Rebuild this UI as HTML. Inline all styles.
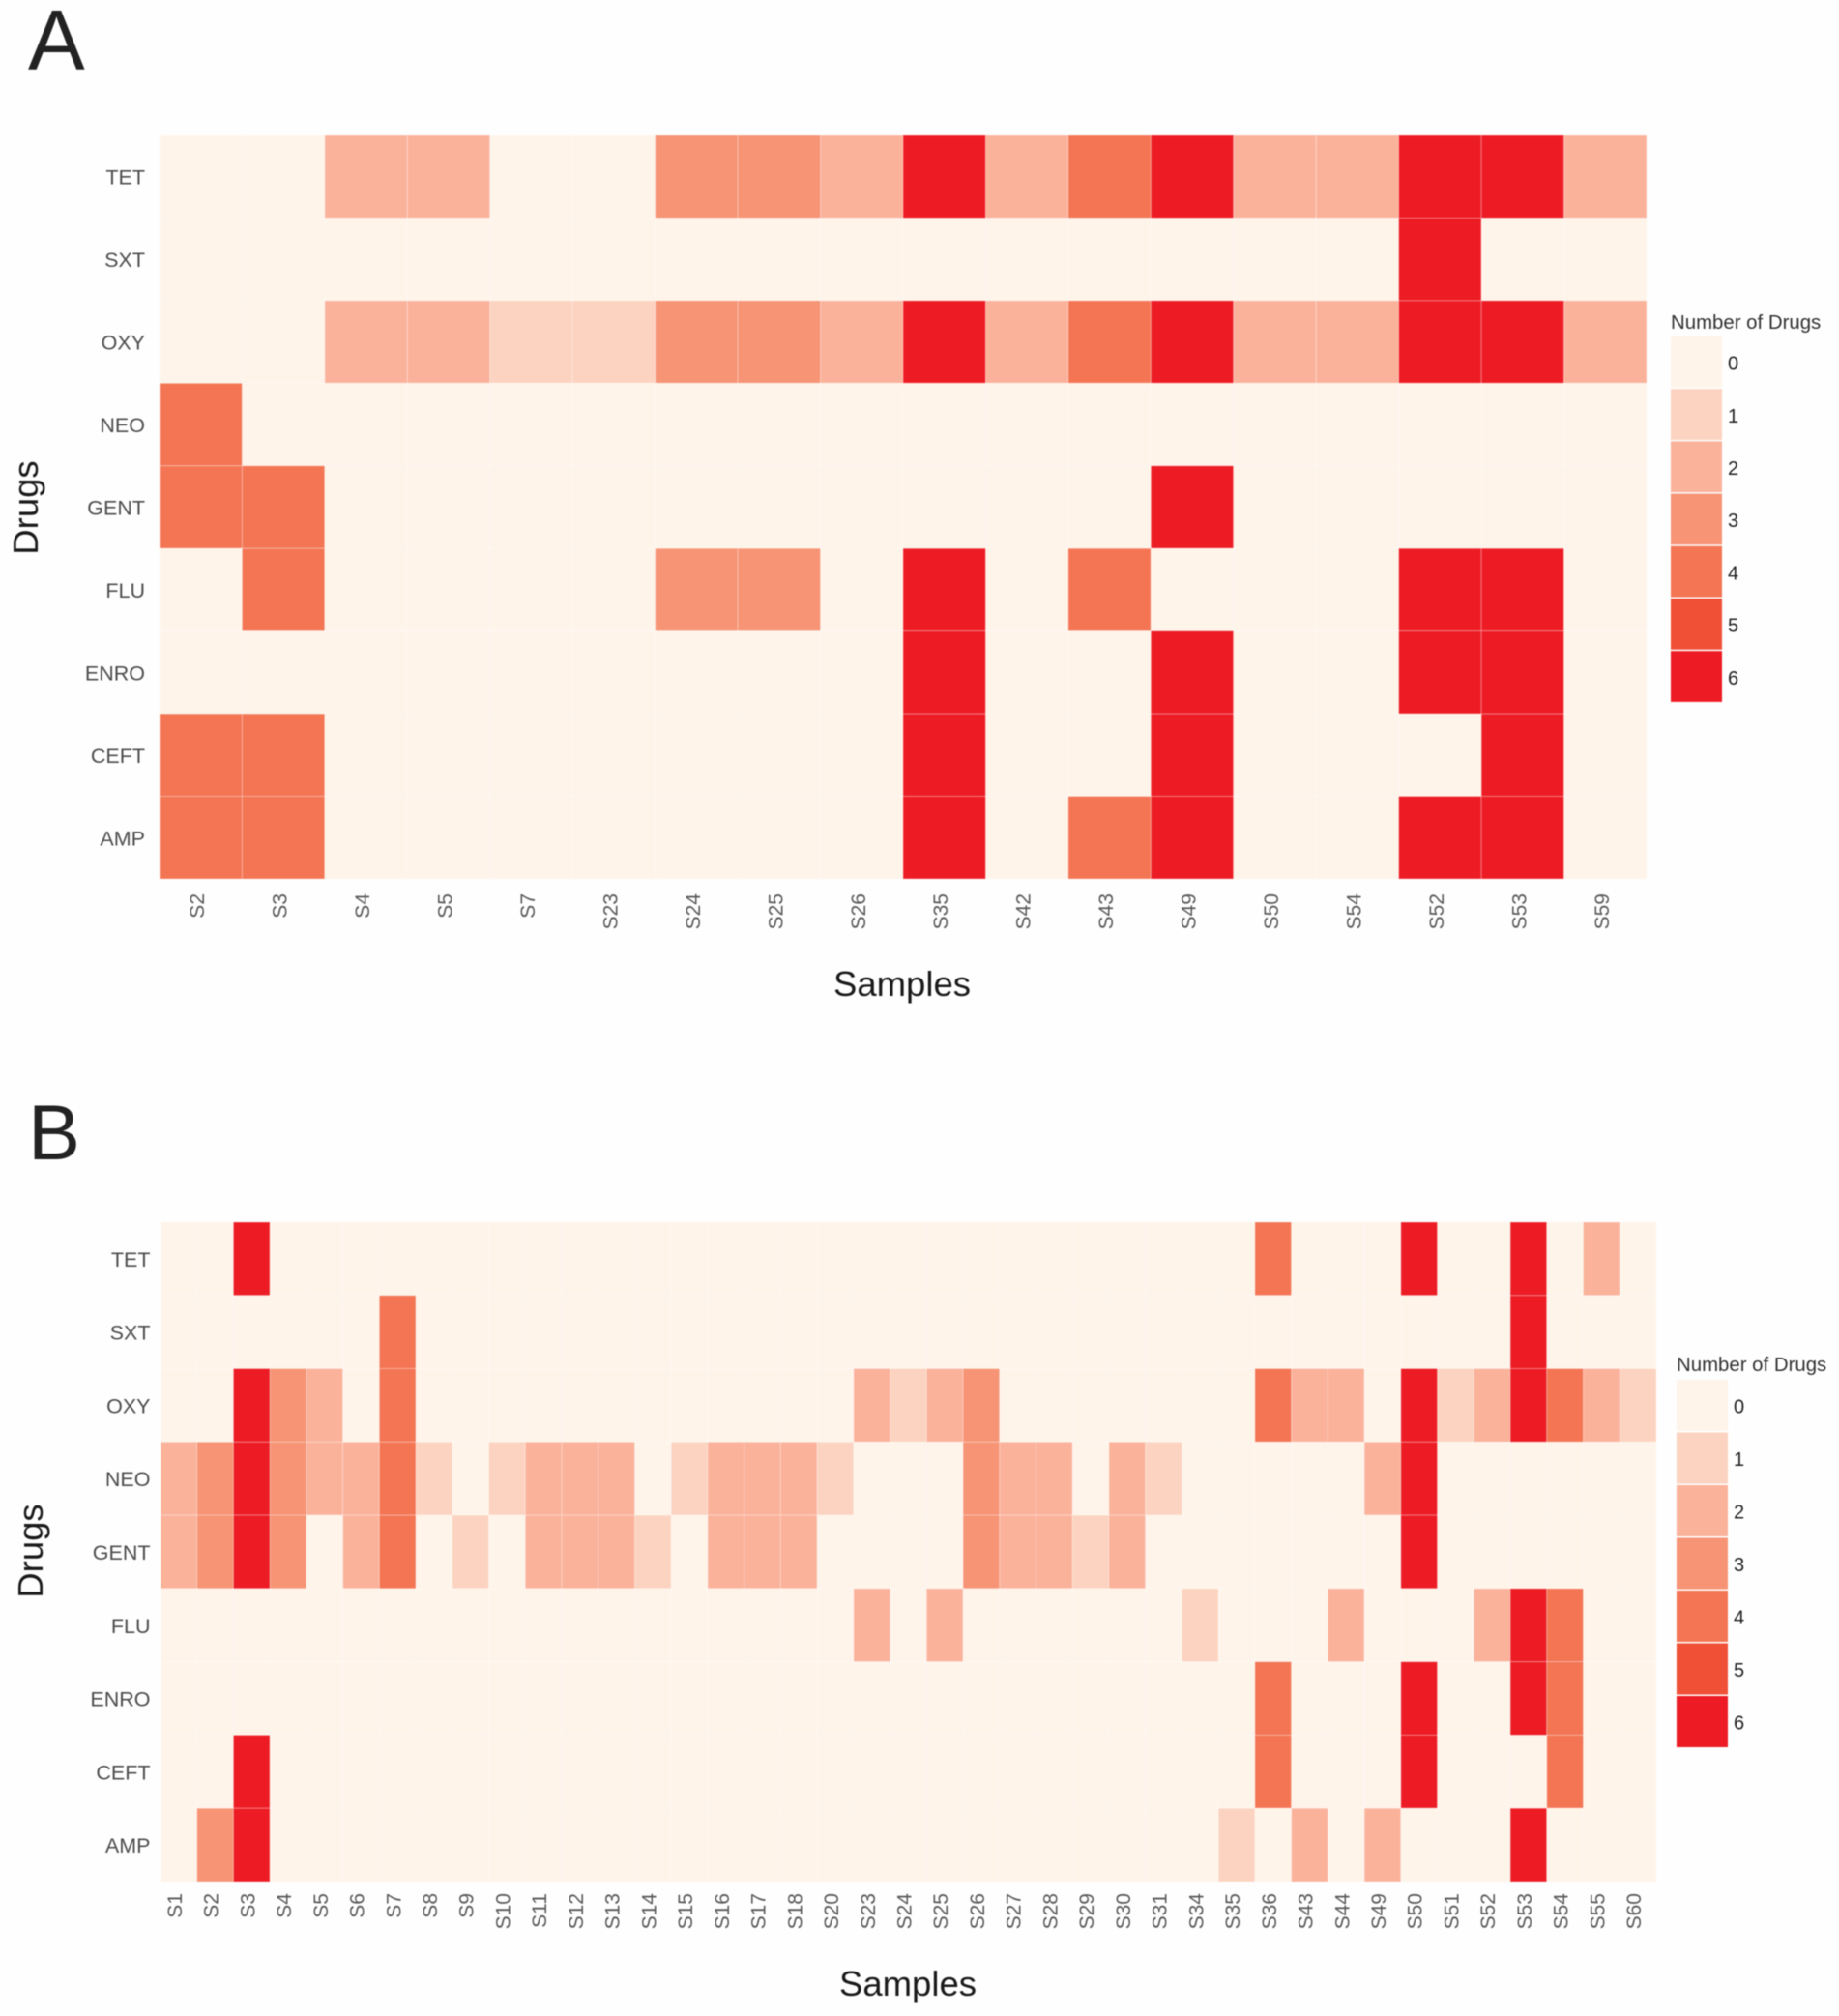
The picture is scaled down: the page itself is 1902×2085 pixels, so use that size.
<!DOCTYPE html>
<html lang="en">
<head>
<meta charset="utf-8">
<title>Drug resistance heatmaps</title>
<style>
html,body{margin:0;padding:0;background:#fefefe;}
svg{display:block;font-family:"Liberation Sans",sans-serif;filter:blur(0.55px);}
</style>
</head>
<body>
<svg id="figure" xmlns="http://www.w3.org/2000/svg" width="1902" height="2085" viewBox="0 0 1902 2085">
<rect width="1902" height="2085" fill="#fefefe"/>
</svg>
<script>
const drugs = ["TET","SXT","OXY","NEO","GENT","FLU","ENRO","CEFT","AMP"];
const legendLevels = [0,1,2,3,4,5,6];
const levelColors = ["#fef4ea","#fcd3c0","#fbb29b","#f69475","#f37554","#f05036","#ed1c24"];

const samplesA = ["S2","S3","S4","S5","S7","S23","S24","S25","S26","S35","S42","S43","S49","S50","S54","S52","S53","S59"];
const tetA  = [0,0,2,2,0,0,3,3,2,6,2,4,6,2,2,6,6,2];
const sxtA  = [0,0,0,0,0,0,0,0,0,0,0,0,0,0,0,6,0,0];
const oxyA  = [0,0,2,2,1,1,3,3,2,6,2,4,6,2,2,6,6,2];
const neoA  = [4,0,0,0,0,0,0,0,0,0,0,0,0,0,0,0,0,0];
const gentA = [4,4,0,0,0,0,0,0,0,0,0,0,6,0,0,0,0,0];
const fluA  = [0,4,0,0,0,0,3,3,0,6,0,4,0,0,0,6,6,0];
const enroA = [0,0,0,0,0,0,0,0,0,6,0,0,6,0,0,6,6,0];
const ceftA = [4,4,0,0,0,0,0,0,0,6,0,0,6,0,0,0,6,0];
const ampA  = [4,4,0,0,0,0,0,0,0,6,0,4,6,0,0,6,6,0];

const samplesB = ["S1","S2","S3","S4","S5","S6","S7","S8","S9","S10","S11","S12","S13","S14","S15","S16","S17","S18","S20","S23","S24","S25","S26","S27","S28","S29","S30","S31","S34","S35","S36","S43","S44","S49","S50","S51","S52","S53","S54","S55","S60"];
const tetB  = [0,0,6,0,0,0,0,0,0,0, 0,0,0,0,0,0,0,0,0,0, 0,0,0,0,0,0,0,0,0,0, 4,0,0,0,6,0,0,6,0,2,0];
const sxtB  = [0,0,0,0,0,0,4,0,0,0, 0,0,0,0,0,0,0,0,0,0, 0,0,0,0,0,0,0,0,0,0, 0,0,0,0,0,0,0,6,0,0,0];
const oxyB  = [0,0,6,3,2,0,4,0,0,0, 0,0,0,0,0,0,0,0,0,2, 1,2,3,0,0,0,0,0,0,0, 4,2,2,0,6,1,2,6,4,2,1];
const neoB  = [2,3,6,3,2,2,4,1,0,1, 2,2,2,0,1,2,2,2,1,0, 0,0,3,2,2,0,2,1,0,0, 0,0,0,2,6,0,0,0,0,0,0];
const gentB = [2,3,6,3,0,2,4,0,1,0, 2,2,2,1,0,2,2,2,0,0, 0,0,3,2,2,1,2,0,0,0, 0,0,0,0,6,0,0,0,0,0,0];
const fluB  = [0,0,0,0,0,0,0,0,0,0, 0,0,0,0,0,0,0,0,0,2, 0,2,0,0,0,0,0,0,1,0, 0,0,2,0,0,0,2,6,4,0,0];
const enroB = [0,0,0,0,0,0,0,0,0,0, 0,0,0,0,0,0,0,0,0,0, 0,0,0,0,0,0,0,0,0,0, 4,0,0,0,6,0,0,6,4,0,0];
const ceftB = [0,0,6,0,0,0,0,0,0,0, 0,0,0,0,0,0,0,0,0,0, 0,0,0,0,0,0,0,0,0,0, 4,0,0,0,6,0,0,0,4,0,0];
const ampB  = [0,3,6,0,0,0,0,0,0,0, 0,0,0,0,0,0,0,0,0,0, 0,0,0,0,0,0,0,0,0,1, 0,2,0,2,0,0,0,6,0,0,0];

const rowsA = [tetA,sxtA,oxyA,neoA,gentA,fluA,enroA,ceftA,ampA];
const rowsB = [tetB,sxtB,oxyB,neoB,gentB,fluB,enroB,ceftB,ampB];

const NS = "http://www.w3.org/2000/svg";
const fig = document.getElementById("figure");

function svgEl(parent, tag, attrs, text) {
  const el = document.createElementNS(NS, tag);
  for (const k in attrs) el.setAttribute(k, attrs[k]);
  if (text !== undefined) el.textContent = text;
  parent.appendChild(el);
  return el;
}

function drawPanel(cfg) {
  const n = cfg.samples.length;
  const m = drugs.length;
  const xScale = i => cfg.left + (cfg.right - cfg.left) * i / n;
  const yScale = j => cfg.top + (cfg.bottom - cfg.top) * j / m;
  const cw = (cfg.right - cfg.left) / n;
  const ch = (cfg.bottom - cfg.top) / m;

  const panel = svgEl(fig, "g", {});
  
  

  const letter = svgEl(panel, "text", {x: cfg.letterX, y: cfg.letterY, "font-size": cfg.letterSize, fill: "#222222"}, cfg.letter);
  
  

  const plot = svgEl(panel, "g", {});
  
  

  cfg.rows.forEach((row, j) => {
    row.forEach((v, i) => {
      const cell = svgEl(plot, "rect", {
        x: xScale(i), y: yScale(j), width: cw, height: ch,
        fill: levelColors[v], stroke: "rgba(255,255,255,0.28)", "stroke-width": 1
      });
      
      
    });
  });

  drugs.forEach((d, j) => {
    const t = svgEl(panel, "text", {
      x: cfg.left - cfg.yLabelGap, y: yScale(j) + ch / 2 + cfg.yLabelDy, "text-anchor": "end",
      "font-size": 21.5, fill: "#4d4d4d"
    }, d);
    
    
  });

  cfg.samples.forEach((s, i) => {
    const cx = xScale(i) + cw / 2 + cfg.xLabelDx;
    const yy = cfg.bottom + cfg.tickGap;
    const t = svgEl(panel, "text", {
      x: cx + 7, y: yy, "text-anchor": "end", "font-size": 21, fill: "#5a5a5a",
      transform: "rotate(-90 " + (cx + 7) + " " + yy + ")"
    }, s);
    
    
  });

  const xt = svgEl(panel, "text", {
    x: cfg.xTitleX, y: cfg.xTitleY, "text-anchor": "middle", "font-size": 36.5, fill: "#1a1a1a"
  }, "Samples");
  
  

  const yt = svgEl(panel, "text", {
    x: cfg.yTitleX, y: cfg.yTitleY, "text-anchor": "middle", "font-size": 36.5, fill: "#1a1a1a",
    transform: "rotate(-90 " + cfg.yTitleX + " " + cfg.yTitleY + ")"
  }, "Drugs");
  
  

  const legend = svgEl(panel, "g", {});
  
  

  const lt = svgEl(legend, "text", {
    x: cfg.legendX, y: cfg.legendTitleY, "font-size": 20.4, fill: "#333333"
  }, "Number of Drugs");
  
  

  legendLevels.forEach((lv, k) => {
    const y0 = cfg.legendTop + k * cfg.legendStep;
    const key = svgEl(legend, "rect", {
      x: cfg.legendX, y: y0, width: cfg.legendW, height: cfg.legendStep - 1.5,
      fill: levelColors[lv]
    });
    
    
    const lab = svgEl(legend, "text", {
      x: cfg.legendX + cfg.legendW + 6, y: y0 + cfg.legendStep / 2 + cfg.legendLabelDy,
      "font-size": 20, fill: "#222222"
    }, String(lv));
    
    
  });
}

drawPanel({
  id: "a", letter: "A", letterX: 29, letterY: 72, letterSize: 88,
  samples: samplesA, rows: rowsA,
  left: 165, right: 1703, top: 140, bottom: 909,
  tickGap: 15, xLabelDx: -3.5, yLabelGap: 15, yLabelDy: 8,
  xTitleX: 933, xTitleY: 1030, yTitleX: 39, yTitleY: 525,
  legendX: 1728, legendTitleY: 340, legendTop: 348, legendW: 53, legendStep: 54.2, legendLabelDy: 7.5
});

drawPanel({
  id: "b", letter: "B", letterX: 29, letterY: 1199, letterSize: 81,
  samples: samplesB, rows: rowsB,
  left: 166, right: 1713, top: 1264, bottom: 1946,
  tickGap: 12, xLabelDx: -4, yLabelGap: 10.5, yLabelDy: 8,
  xTitleX: 939, xTitleY: 2064, yTitleX: 44, yTitleY: 1604,
  legendX: 1734, legendTitleY: 1418, legendTop: 1427, legendW: 53, legendStep: 54.5, legendLabelDy: 7
});
</script>
</body>
</html>
